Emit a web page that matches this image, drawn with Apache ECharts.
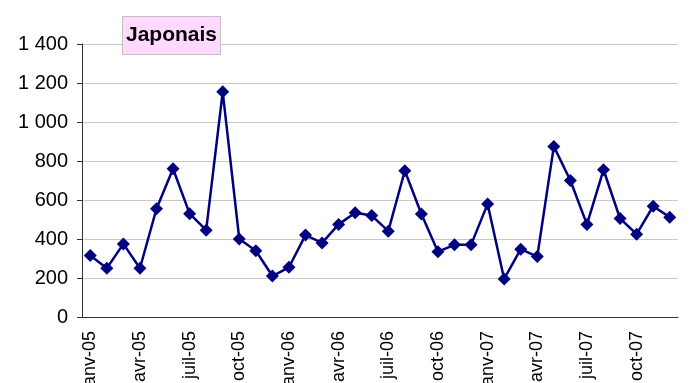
<!DOCTYPE html>
<html>
<head>
<meta charset="utf-8">
<script src="https://cdn.jsdelivr.net/npm/echarts@6/dist/echarts.min.js"></script>
<style>
html, body { margin: 0; padding: 0; background: #fff; }
#chart { width: 694px; height: 383px; }
</style>
</head>
<body>
<div id="chart"></div>
<script>
var months = ['janv', 'févr', 'mars', 'avr', 'mai', 'juin', 'juil', 'août', 'sept', 'oct', 'nov', 'déc'];
var years = ['05', '06', '07'];
var categories = [];
years.forEach(function (y) {
    months.forEach(function (m) { categories.push(m + '-' + y); });
});

var japonais = [
    315, 250, 375, 250, 555, 760, 530, 445, 1155, 400, 340, 210,
    255, 420, 380, 475, 535, 520, 440, 750, 528, 335, 370, 370,
    580, 195, 348, 310, 875, 700, 475, 755, 505, 425, 568, 512
];

var chart = echarts.init(document.getElementById('chart'));
var option = {
    animation: false,
    title: {
        text: 'Japonais',
        left: 122,
        top: 16,
        padding: [9, 4, 9, 4],
        backgroundColor: '#ffd9ff',
        borderColor: '#c0c0c0',
        borderWidth: 1,
        textStyle: {
            fontFamily: 'Liberation Sans, Arial, sans-serif',
            fontSize: 21,
            fontWeight: 'bold',
            color: '#000',
            lineHeight: 21
        }
    },
    grid: { left: 82, right: 16, top: 44, bottom: 66, outerBoundsMode: 'none', containLabel: false },
    xAxis: {
        type: 'category',
        data: categories,
        boundaryGap: true,
        axisLine: { lineStyle: { color: '#333', width: 1 } },
        axisTick: { interval: 0, length: 6, lineStyle: { color: '#333' } },
        axisLabel: {
            interval: 2,
            rotate: 90,
            margin: 14,
            fontFamily: 'Liberation Sans, Arial, sans-serif',
            fontSize: 18,
            color: '#000'
        },
        splitLine: { show: false }
    },
    yAxis: {
        type: 'value',
        min: 0,
        max: 1400,
        interval: 200,
        axisLine: { show: true, lineStyle: { color: '#333', width: 1 } },
        axisTick: { show: true, length: 5, lineStyle: { color: '#333' } },
        axisLabel: {
            margin: 14,
            fontFamily: 'Liberation Sans, Arial, sans-serif',
            fontSize: 20,
            color: '#000',
            formatter: function (v) {
                if (v >= 1000) {
                    var r = String(v % 1000);
                    while (r.length < 3) r = '0' + r;
                    return Math.floor(v / 1000) + ' ' + r;
                }
                return String(v);
            }
        },
        splitLine: { lineStyle: { color: '#c8c8c8', width: 1 } }
    },
    series: [{
        name: 'Japonais',
        type: 'line',
        data: japonais,
        symbol: 'diamond',
        symbolSize: 13,
        showAllSymbol: true,
        lineStyle: { color: '#000080', width: 2.5 },
        itemStyle: { color: '#000080' }
    }]
};
chart.setOption(option);
</script>
</body>
</html>
